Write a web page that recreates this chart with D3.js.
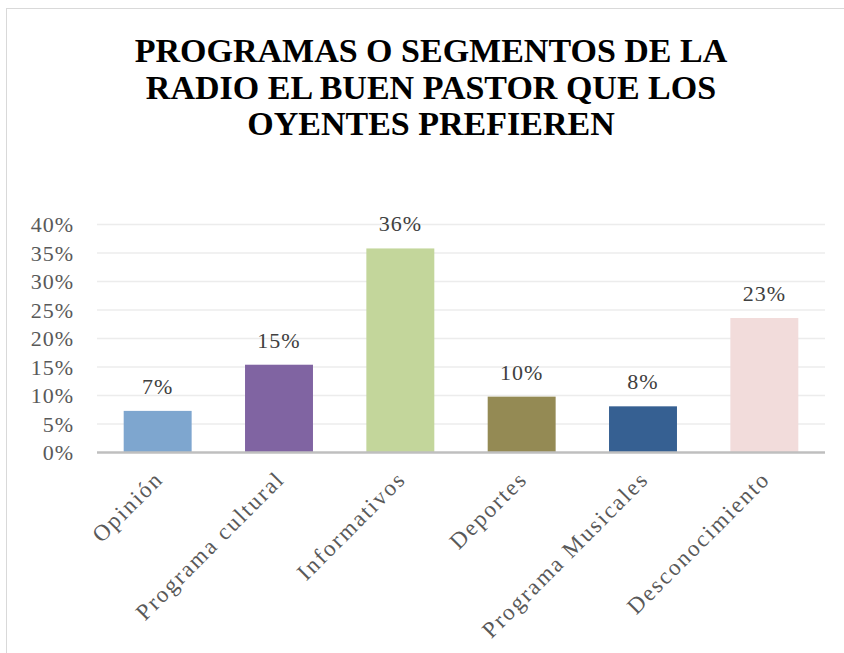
<!DOCTYPE html>
<html>
<head>
<meta charset="utf-8">
<script src="https://cdn.jsdelivr.net/npm/d3@7"></script>
<style>
  body { margin: 0; background: #fff; }
  svg { display: block; }
</style>
</head>
<body>
<script>
// Data
var categories = ['Opinión', 'Programa cultural', 'Informativos', 'Deportes', 'Programa Musicales', 'Desconocimiento'];
var values = [0.073, 0.154, 0.358, 0.098, 0.081, 0.236];
var valueLabels = ['7%', '15%', '36%', '10%', '8%', '23%'];
var barColors = ['#7ea6cf', '#8064a2', '#c3d69b', '#948a54', '#366092', '#f2dcdb'];
var yTicks = [0, 0.05, 0.10, 0.15, 0.20, 0.25, 0.30, 0.35, 0.40];
var titleLines = ['PROGRAMAS O SEGMENTOS DE LA', 'RADIO EL BUEN PASTOR QUE LOS', 'OYENTES PREFIEREN'];

var W = 844, H = 653;
var margin = {top: 224.5, right: 19, bottom: 200.5, left: 97};
var width = W - margin.left - margin.right;
var height = H - margin.top - margin.bottom;

var labelFont = '"Liberation Serif", serif';

var svg = d3.select('body')
  .append('svg')
  .attr('width', W)
  .attr('height', H);

// chart frame (runs off the right and bottom edge)
svg.append('rect')
  .attr('x', 6.5)
  .attr('y', 8.5)
  .attr('width', 900)
  .attr('height', 700)
  .attr('fill', 'none')
  .attr('stroke', '#d9d9d9');

// title
svg.append('text')
  .attr('x', 431)
  .attr('y', 62)
  .attr('text-anchor', 'middle')
  .style('font-family', '"Liberation Serif", serif')
  .style('font-weight', 'bold')
  .style('font-size', '34px')
  .style('fill', '#000')
  .selectAll('tspan')
  .data(titleLines)
  .enter().append('tspan')
  .attr('x', 431)
  .attr('dy', function(d, i){ return i === 0 ? 0 : 36.5; })
  .text(function(d){ return d; });

var g = svg.append('g')
  .attr('transform', 'translate(' + margin.left + ',' + margin.top + ')');

var xScale = d3.scaleBand()
  .domain(categories)
  .range([0, width])
  .paddingInner(0.44)
  .paddingOuter(0.22);

var yScale = d3.scaleLinear()
  .domain([0, 0.4])
  .range([height, 0]);

// gridlines
g.selectAll('.grid')
  .data(yTicks.slice(1))
  .enter().append('line')
  .attr('class', 'grid')
  .attr('x1', 0)
  .attr('x2', width)
  .attr('y1', function(d){ return yScale(d); })
  .attr('y2', function(d){ return yScale(d); })
  .attr('stroke', '#ececec')
  .attr('stroke-width', 1.5);

// y axis labels
var yAxis = d3.axisLeft(yScale)
  .tickValues(yTicks)
  .tickFormat(d3.format('.0%'))
  .tickSize(0)
  .tickPadding(23);

g.append('g')
  .attr('class', 'y axis')
  .call(yAxis)
  .call(function(s){ s.select('.domain').remove(); })
  .selectAll('text')
  .style('font-family', labelFont)
  .style('font-size', '22px')
  .style('letter-spacing', '1px')
  .style('fill', '#595959');

// bars
g.selectAll('.bar')
  .data(values)
  .enter().append('rect')
  .attr('class', 'bar')
  .attr('x', function(d, i){ return xScale(categories[i]); })
  .attr('y', function(d){ return yScale(d); })
  .attr('width', xScale.bandwidth())
  .attr('height', function(d){ return height - yScale(d); })
  .style('fill', function(d, i){ return barColors[i]; });

// value labels
g.selectAll('.vlabel')
  .data(values)
  .enter().append('text')
  .attr('class', 'vlabel')
  .attr('x', function(d, i){ return xScale(categories[i]) + xScale.bandwidth() / 2; })
  .attr('y', function(d){ return yScale(d) - 17; })
  .attr('text-anchor', 'middle')
  .style('font-family', labelFont)
  .style('font-size', '22px')
  .style('letter-spacing', '1px')
  .style('fill', '#404040')
  .text(function(d, i){ return valueLabels[i]; });

// x axis line
g.append('line')
  .attr('x1', 0)
  .attr('x2', width)
  .attr('y1', height)
  .attr('y2', height)
  .attr('stroke', '#bfbfbf')
  .attr('stroke-width', 2.5);

// category labels, rotated
g.selectAll('.xlabel')
  .data(categories)
  .enter().append('text')
  .attr('class', 'xlabel')
  .attr('text-anchor', 'end')
  .attr('transform', function(d){
    var cx = xScale(d) + xScale.bandwidth() / 2 + 7;
    return 'translate(' + cx + ',' + (height + 28) + ') rotate(-45)';
  })
  .style('font-family', labelFont)
  .style('font-size', '23px')
  .style('letter-spacing', '2px')
  .style('fill', '#595959')
  .text(function(d){ return d; });
</script>
</body>
</html>
